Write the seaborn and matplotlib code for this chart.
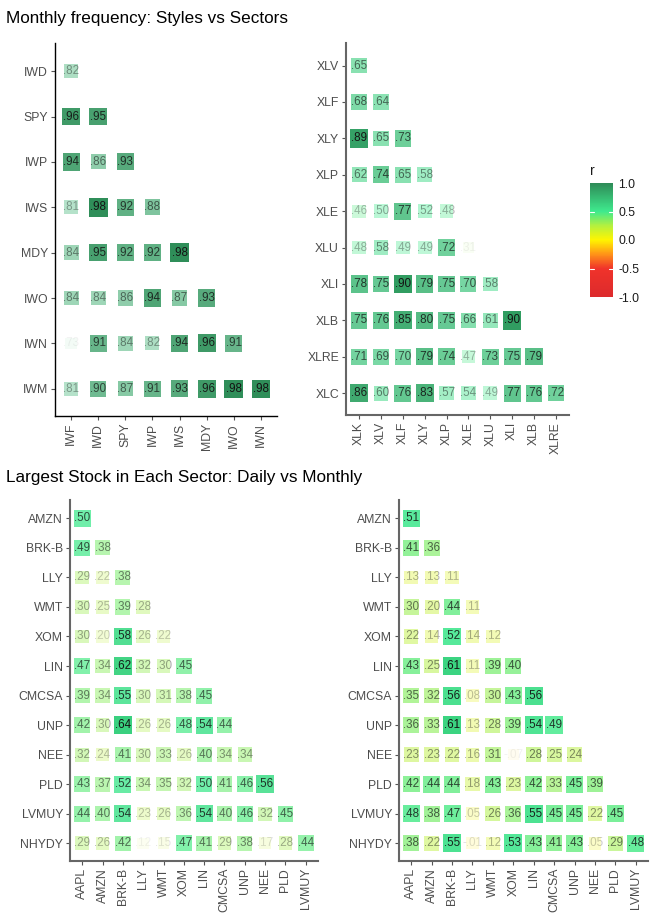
import numpy as np
import pandas as pd
import matplotlib
matplotlib.use("Agg")
import matplotlib.pyplot as plt
import seaborn as sns
from matplotlib.colors import LinearSegmentedColormap, Normalize
from matplotlib.cm import ScalarMappable

sns.set_theme(style="white")
plt.rcParams["font.family"] = ["Liberation Sans", "DejaVu Sans"]

# ---------------- data ----------------
style_rows = ["IWD", "SPY", "IWP", "IWS", "MDY", "IWO", "IWN", "IWM"]
style_cols = ["IWF", "IWD", "SPY", "IWP", "IWS", "MDY", "IWO", "IWN"]
style_vals = [
    [.82],
    [.96, .95],
    [.94, .86, .93],
    [.81, .98, .92, .88],
    [.84, .95, .92, .92, .98],
    [.84, .84, .86, .94, .87, .93],
    [.73, .91, .84, .82, .94, .96, .91],
    [.81, .90, .87, .91, .93, .96, .98, .98],
]

sector_rows = ["XLV", "XLF", "XLY", "XLP", "XLE", "XLU", "XLI", "XLB", "XLRE", "XLC"]
sector_cols = ["XLK", "XLV", "XLF", "XLY", "XLP", "XLE", "XLU", "XLI", "XLB", "XLRE"]
sector_vals = [
    [.65],
    [.68, .64],
    [.89, .65, .73],
    [.62, .74, .65, .58],
    [.46, .50, .77, .52, .48],
    [.48, .58, .49, .49, .72, .31],
    [.78, .75, .90, .79, .75, .70, .58],
    [.75, .76, .85, .80, .75, .66, .61, .90],
    [.71, .69, .70, .79, .74, .47, .73, .75, .79],
    [.86, .60, .76, .83, .57, .54, .49, .77, .76, .72],
]

stock_rows = ["AMZN", "BRK-B", "LLY", "WMT", "XOM", "LIN", "CMCSA", "UNP", "NEE", "PLD", "LVMUY", "NHYDY"]
stock_cols = ["AAPL", "AMZN", "BRK-B", "LLY", "WMT", "XOM", "LIN", "CMCSA", "UNP", "NEE", "PLD", "LVMUY"]
daily_vals = [
    [.50],
    [.49, .38],
    [.29, .22, .38],
    [.30, .25, .39, .28],
    [.30, .20, .58, .26, .22],
    [.47, .34, .62, .32, .30, .45],
    [.39, .34, .55, .30, .31, .38, .45],
    [.42, .30, .64, .26, .26, .48, .54, .44],
    [.32, .24, .41, .30, .33, .26, .40, .34, .34],
    [.43, .37, .52, .34, .35, .32, .50, .41, .46, .56],
    [.44, .40, .54, .23, .26, .36, .54, .40, .46, .32, .45],
    [.29, .26, .42, .12, .15, .47, .41, .29, .38, .17, .28, .44],
]
monthly_vals = [
    [.51],
    [.41, .36],
    [.13, .13, .11],
    [.30, .20, .44, .11],
    [.22, .14, .52, .14, .12],
    [.43, .25, .61, .11, .39, .40],
    [.35, .32, .56, .08, .30, .43, .56],
    [.36, .33, .61, .13, .28, .39, .54, .49],
    [.23, .23, .22, .16, .31, -.07, .28, .25, .24],
    [.42, .44, .44, .18, .43, .23, .42, .33, .45, .39],
    [.48, .38, .47, .05, .26, .36, .55, .45, .45, .22, .45],
    [.38, .22, .55, -.01, .12, .53, .43, .41, .43, .05, .29, .48],
]

cbar_ticks = [1.0, 0.5, 0.0, -0.5, -1.0]

# ---------------- styling ----------------
cmap = LinearSegmentedColormap.from_list(
    "rcor",
    [(0.0, "#DC2A2C"), (0.25, "#F0332B"), (0.375, "#FF9418"),
     (0.5, "#FFF500"), (0.625, "#B5F03E"), (0.75, "#3FEA8E"), (1.0, "#2E8B57")],
)
norm = Normalize(-1, 1)

W, H = 650, 918
fig = plt.figure(figsize=(W / 100, H / 100), dpi=100)


def box(l, r, t, b):
    return [l / W, (H - b) / H, (r - l) / W, (b - t) / H]


def fmt(v):
    s = f"{v:.2f}"
    return s.replace("0.", ".", 1)


def panel(rect, rows, cols, vals, spine_col, spine_lw):
    ax = fig.add_axes(rect)
    recs = []
    for i, row in enumerate(vals):
        for j, v in enumerate(row):
            recs.append({"x": j, "y": i, "r": v})
    df = pd.DataFrame(recs)
    lo, hi = df["r"].min(), df["r"].max()
    df["t"] = (df["r"] - lo) / (hi - lo)
    df["alpha"] = 0.06 + 0.94 * df["t"]
    df["area"] = ((11.5 + 7 * df["t"]) * 0.72) ** 2
    sizes = {a: a for a in df["area"].unique()}
    sns.scatterplot(data=df, x="x", y="y", hue="r", palette=cmap, hue_norm=(-1, 1),
                    size="area", sizes=sizes, marker="s", linewidth=0,
                    legend=False, ax=ax)
    coll = ax.collections[-1]
    fc = coll.get_facecolors()
    fc[:, 3] = df["alpha"].values
    coll.set_facecolors(fc)
    for _, rr in df.iterrows():
        ax.text(rr["x"], rr["y"], fmt(rr["r"]), ha="center", va="center",
                fontsize=8.4, color=(0.08, 0.08, 0.08, rr["alpha"]))
    ax.set_xlim(-0.6, len(cols) - 1 + 0.6)
    ax.set_ylim(len(rows) - 1 + 0.6, -0.62)
    ax.set_xticks(range(len(cols)))
    ax.set_xticklabels(cols, rotation=90)
    ax.set_yticks(range(len(rows)))
    ax.set_yticklabels(rows)
    ax.set_xlabel("")
    ax.set_ylabel("")
    for s in ["top", "right"]:
        ax.spines[s].set_visible(False)
    for s in ["left", "bottom"]:
        ax.spines[s].set_color(spine_col)
        ax.spines[s].set_linewidth(spine_lw)
    ax.tick_params(axis="both", which="both", length=3, width=0.8, color="#555555",
                   labelsize=8.8, labelcolor="#4D4D4D", pad=2, bottom=True, left=True)
    ax.grid(False)
    ax.set_facecolor("white")
    return ax


panel(box(55, 277, 43, 416), style_rows, style_cols, style_vals, "black", 1.0)
panel(box(346, 569, 43, 415), sector_rows, sector_cols, sector_vals, "#666666", 1.5)
panel(box(70, 318, 500, 861), stock_rows, stock_cols, daily_vals, "#666666", 1.5)
panel(box(399, 648, 500, 861), stock_rows, stock_cols, monthly_vals, "#666666", 1.5)

# colorbar
cax = fig.add_axes(box(590, 613, 183, 297))
sm = ScalarMappable(norm=norm, cmap=cmap)
cb = fig.colorbar(sm, cax=cax, ticks=cbar_ticks)
cb.outline.set_visible(False)
cb.ax.set_yticklabels([f"{t:.1f}" for t in cbar_ticks])
cb.ax.tick_params(length=0, labelsize=8.8, labelcolor="#1a1a1a", pad=4)
for t in [0.5, -0.5]:
    cax.plot([0, 0.18], [t, t], color="white", lw=0.8, transform=cax.get_yaxis_transform())
    cax.plot([0.82, 1], [t, t], color="white", lw=0.8, transform=cax.get_yaxis_transform())
fig.text(590 / W, 1 - 171 / H, "r", fontsize=10, ha="left", va="center", color="#1a1a1a")

# titles
fig.text(6 / W, 1 - 19 / H, "Monthly frequency: Styles vs Sectors", fontsize=12.3,
         ha="left", va="center", color="black")
fig.text(6 / W, 1 - 477 / H, "Largest Stock in Each Sector: Daily vs Monthly", fontsize=12.3,
         ha="left", va="center", color="black")

fig.savefig("out.png", dpi=100, facecolor="white")
